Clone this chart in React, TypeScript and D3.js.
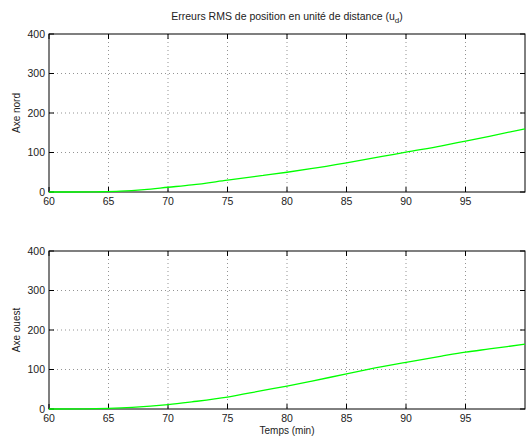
import React from "react";
import * as d3 from "d3";

const xTicks = [60, 65, 70, 75, 80, 85, 90, 95];
const yTicks = [0, 100, 200, 300, 400];
const timeNord = [60, 62, 64, 66, 68, 70, 72, 75, 78, 80, 82, 85, 88, 90, 93, 95, 97, 100];
const valNord = [0, 0, 0.5, 2, 6, 12, 18, 30, 42, 50, 59, 74, 90, 101, 117, 129, 141, 160];
const timeOuest = [60, 63, 65, 67, 70, 72, 75, 78, 80, 82, 85, 88, 90, 93, 95, 97, 100];
const valOuest = [0, 0.3, 1.5, 4, 11, 18, 30, 47, 58, 70, 89, 107, 118, 134, 144, 152, 164];

const W = 526, H = 439;
const X0 = 49, X1 = 525;
const FONT = "Liberation Sans, Arial, Helvetica, sans-serif";

function Panel({ top, bottom, times, vals, ylabel }: { top: number; bottom: number; times: number[]; vals: number[]; ylabel: string }) {
  const x = d3.scaleLinear().domain([60, 100]).range([X0, X1]);
  const y = d3.scaleLinear().domain([0, 400]).range([bottom, top]);
  const line = d3.line<number>().x((_, i) => x(times[i])).y((v) => y(v)).curve(d3.curveMonotoneX);
  const tl = 5;
  return (
    <g>
      {xTicks.filter((t) => t !== 60).map((t) => (
        <line key={"gx" + t} x1={x(t)} x2={x(t)} y1={top} y2={bottom} stroke="#000" strokeWidth={0.6} strokeDasharray="1,3" opacity={0.7} />
      ))}
      {yTicks.filter((t) => t !== 0 && t !== 400).map((t) => (
        <line key={"gy" + t} x1={X0} x2={X1} y1={y(t)} y2={y(t)} stroke="#000" strokeWidth={0.6} strokeDasharray="1,3" opacity={0.7} />
      ))}
      <rect x={X0} y={top} width={X1 - X0} height={bottom - top} fill="none" stroke="#000" strokeWidth={1} />
      {xTicks.map((t) => (
        <g key={"tx" + t}>
          <line x1={x(t)} x2={x(t)} y1={bottom} y2={bottom - tl} stroke="#000" />
          <line x1={x(t)} x2={x(t)} y1={top} y2={top + tl} stroke="#000" />
          <text x={x(t)} y={bottom + 13} textAnchor="middle" fontSize={10.5} fontFamily={FONT} fill="#222">{t}</text>
        </g>
      ))}
      {yTicks.map((t) => (
        <g key={"ty" + t}>
          <line x1={X0} x2={X0 + tl} y1={y(t)} y2={y(t)} stroke="#000" />
          <line x1={X1} x2={X1 - tl} y1={y(t)} y2={y(t)} stroke="#000" />
          <text x={X0 - 4} y={y(t) + 3.5} textAnchor="end" fontSize={10.5} fontFamily={FONT} fill="#222">{t}</text>
        </g>
      ))}
      <path d={line(vals) || ""} fill="none" stroke="#00ff00" strokeWidth={1.3} />
      <text transform={`translate(20,${(top + bottom) / 2}) rotate(-90)`} textAnchor="middle" fontSize={10} fontFamily={FONT} fill="#222">{ylabel}</text>
    </g>
  );
}

export default function App() {
  return (
    <svg width={W} height={H} style={{ position: "absolute", left: 0, top: 0, background: "#fff" }}>
      <rect width={W} height={H} fill="#fff" />
      <text x={287} y={20} textAnchor="middle" fontSize={10.5} fontFamily={FONT} fill="#222">
        Erreurs RMS de position en unité de distance (u<tspan dy={3} fontSize={8}>d</tspan><tspan dy={-3}>)</tspan>
      </text>
      <Panel top={34} bottom={192} times={timeNord} vals={valNord} ylabel="Axe nord" />
      <Panel top={251} bottom={409} times={timeOuest} vals={valOuest} ylabel="Axe ouest" />
      <text x={287} y={434} textAnchor="middle" fontSize={10} fontFamily={FONT} fill="#222">Temps (min)</text>
    </svg>
  );
}
